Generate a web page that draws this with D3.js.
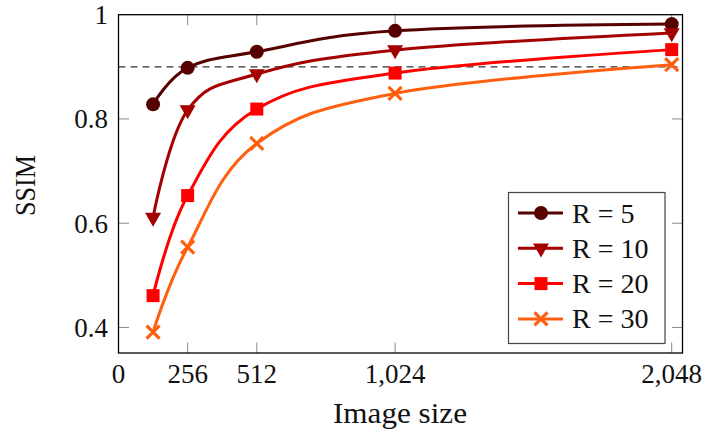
<!DOCTYPE html>
<html>
<head>
<meta charset="utf-8">
<script src="https://cdn.jsdelivr.net/npm/d3@7/dist/d3.min.js"></script>
<style>
  html, body { margin: 0; padding: 0; background: #fff; }
  svg { display: block; }
  text { font-family: "Liberation Serif", "DejaVu Serif", serif; fill: #111; }
</style>
</head>
<body>
<svg id="chart" width="705" height="435"></svg>
<script>
// ---- data ----
const imageSizes = [128, 256, 512, 1024, 2048];
const xTickValues = [0, 256, 512, 1024, 2048];
const yTickValues = [0.4, 0.6, 0.8, 1.0];
const seriesNames = ["R = 5", "R = 10", "R = 20", "R = 30"];
const ssimR5  = [0.828, 0.898, 0.929, 0.969, 0.982];
const ssimR10 = [0.611, 0.817, 0.886, 0.932, 0.965];
const ssimR20 = [0.461, 0.653, 0.819, 0.888, 0.933];
const ssimR30 = [0.391, 0.554, 0.753, 0.849, 0.904];
const threshold = 0.9;
const xDomain = [0, 2088];
const yDomain = [0.351, 1.0];

const seriesValues = [ssimR5, ssimR10, ssimR20, ssimR30];
const colors = ["#560000", "#a40000", "#ff0000", "#ff5f0f"];
const markers = ["circle", "triangle", "square", "cross"];

// ---- layout ----
const svg = d3.select("#chart");
const pLeft = 118.5, pRight = 682.5, pTop = 14.7, pBottom = 353;
const x = d3.scaleLinear().domain(xDomain).range([pLeft, pRight]);
const y = d3.scaleLinear().domain(yDomain).range([pBottom, pTop]);
const tickFont = 27;

// dashed threshold
svg.append("line")
  .attr("x1", x(xDomain[0])).attr("x2", x(xDomain[1]))
  .attr("y1", y(threshold)).attr("y2", y(threshold))
  .attr("stroke", "#333").attr("stroke-width", 1.2)
  .attr("stroke-dasharray", "7,5");

// ticks (inside, grey), bottom/top and left/right
const tickLen = 10.5;
const tickColor = "#8a8a8a";
const xt = xTickValues.filter(v => v > 0);
svg.append("g").selectAll("line").data(xt).join("line")
  .attr("x1", d => x(d)).attr("x2", d => x(d))
  .attr("y1", pBottom).attr("y2", pBottom - tickLen)
  .attr("stroke", tickColor).attr("stroke-width", 1);
svg.append("g").selectAll("line").data(xt).join("line")
  .attr("x1", d => x(d)).attr("x2", d => x(d))
  .attr("y1", pTop).attr("y2", pTop + tickLen)
  .attr("stroke", tickColor).attr("stroke-width", 1);
const yt = yTickValues.filter(v => v < 1);
svg.append("g").selectAll("line").data(yt).join("line")
  .attr("x1", pLeft).attr("x2", pLeft + tickLen)
  .attr("y1", d => y(d)).attr("y2", d => y(d))
  .attr("stroke", tickColor).attr("stroke-width", 1);
svg.append("g").selectAll("line").data(yt).join("line")
  .attr("x1", pRight).attr("x2", pRight - tickLen)
  .attr("y1", d => y(d)).attr("y2", d => y(d))
  .attr("stroke", tickColor).attr("stroke-width", 1);

// tick labels
const fmtX = d3.format(",");
svg.append("g").selectAll("text").data(xTickValues).join("text")
  .attr("x", d => x(d)).attr("y", 383)
  .attr("text-anchor", "middle")
  .style("font-size", tickFont + "px")
  .text(d => fmtX(d));
const fmtY = d => (d === 1 ? "1" : d3.format(".1f")(d));
svg.append("g").selectAll("text").data(yTickValues).join("text")
  .attr("x", 108).attr("y", d => y(d) + 9.5)
  .attr("text-anchor", "end")
  .style("font-size", tickFont + "px")
  .text(fmtY);

// axis titles
svg.append("text").attr("x", 333).attr("y", 423)
  .style("font-size", "29px")
  .attr("textLength", 134).attr("lengthAdjust", "spacingAndGlyphs")
  .text("Image size");
svg.append("text")
  .attr("transform", "translate(35,216) rotate(-90)")
  .style("font-size", "29px")
  .attr("textLength", 61).attr("lengthAdjust", "spacingAndGlyphs")
  .text("SSIM");

// marker drawing
function drawMarker(g, type, color, cx, cy) {
  if (type === "circle") {
    g.append("circle").attr("cx", cx).attr("cy", cy).attr("r", 7).attr("fill", color);
  } else if (type === "triangle") {
    const s = 8;
    g.append("path")
      .attr("d", `M${cx - s},${cy - s * 0.6}L${cx + s},${cy - s * 0.6}L${cx},${cy + s * 1.15}Z`)
      .attr("fill", color);
  } else if (type === "square") {
    g.append("rect").attr("x", cx - 6.5).attr("y", cy - 6.5)
      .attr("width", 13).attr("height", 13).attr("fill", color);
  } else {
    const s = 6.5;
    g.append("path")
      .attr("d", `M${cx - s},${cy - s}L${cx + s},${cy + s}M${cx - s},${cy + s}L${cx + s},${cy - s}`)
      .attr("stroke", color).attr("stroke-width", 3.2).attr("fill", "none");
  }
}

// series
const line = d3.line()
  .x(d => x(d[0])).y(d => y(d[1]))
  .curve(d3.curveCardinal.tension(-0.1));

seriesValues.forEach((vals, i) => {
  const pts = imageSizes.map((s, j) => [s, vals[j]]);
  const g = svg.append("g");
  g.append("path").datum(pts).attr("d", line)
    .attr("fill", "none").attr("stroke", colors[i]).attr("stroke-width", 3);
  pts.forEach(p => drawMarker(g, markers[i], colors[i], x(p[0]), y(p[1])));
});

// axis frame
svg.append("rect")
  .attr("x", pLeft).attr("y", pTop)
  .attr("width", pRight - pLeft).attr("height", pBottom - pTop)
  .attr("fill", "none").attr("stroke", "#000").attr("stroke-width", 1.3);

// legend
const lg = svg.append("g");
lg.append("rect").attr("x", 508.5).attr("y", 192.5).attr("width", 156.5).attr("height", 151)
  .attr("fill", "#fff").attr("stroke", "#444").attr("stroke-width", 1.2);
seriesNames.forEach((name, i) => {
  const cy = 213 + i * 35.3;
  lg.append("line").attr("x1", 518).attr("x2", 563).attr("y1", cy).attr("y2", cy)
    .attr("stroke", colors[i]).attr("stroke-width", 3);
  drawMarker(lg, markers[i], colors[i], 541, cy);
  lg.append("text").attr("x", 572).attr("y", cy + 9.5)
    .style("font-size", "28px").text(name);
});
</script>
</body>
</html>
